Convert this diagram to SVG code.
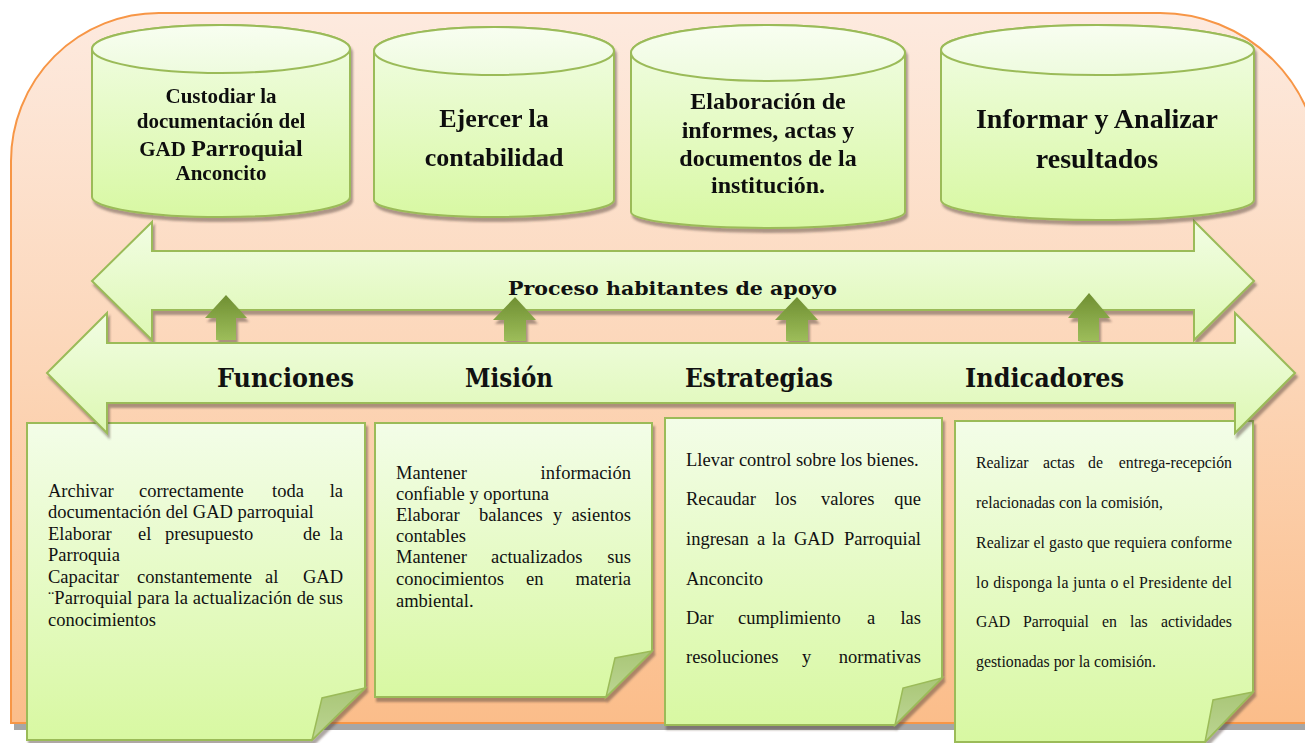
<svg xmlns="http://www.w3.org/2000/svg" width="1305" height="743" viewBox="0 0 1305 743">
<style>
.cy{fill:url(#gCyl);stroke:#9bbb59;stroke-width:2}
.cyt{fill:url(#gTop);stroke:#9bbb59;stroke-width:2}
.ct{font-family:"Liberation Serif","Times New Roman",serif;font-weight:bold;fill:#111;text-anchor:middle}
.ar{fill:url(#gArrow);stroke:#9bbb59;stroke-width:2}
.al{font-family:"DejaVu Serif",serif;font-weight:bold;fill:#111}
.nt{fill:url(#gNote);stroke:#9bbb59;stroke-width:2}
.fd{fill:url(#gFold);stroke:#9bbb59;stroke-width:1.5}
.tx{font-family:"Liberation Serif","Times New Roman",serif;font-size:18.5px;fill:#111}
.tx4{font-family:"Liberation Serif","Times New Roman",serif;font-size:15.8px;fill:#111}
.e{text-anchor:end}
.up{fill:url(#gSmall);stroke:none}
</style>
<defs>
<linearGradient id="gBg" x1="0" y1="0" x2="0" y2="1">
<stop offset="0" stop-color="#fdeadf"/><stop offset="0.5" stop-color="#fcd6b8"/><stop offset="1" stop-color="#fbbd8a"/>
</linearGradient>
<linearGradient id="gCyl" x1="0" y1="0" x2="0" y2="1">
<stop offset="0" stop-color="#f2fde6"/><stop offset="1" stop-color="#d8f8a3"/>
</linearGradient>
<linearGradient id="gTop" x1="0" y1="0" x2="0" y2="1">
<stop offset="0" stop-color="#f8fef1"/><stop offset="1" stop-color="#eefbde"/>
</linearGradient>
<linearGradient id="gArrow" x1="0" y1="0" x2="0" y2="1">
<stop offset="0" stop-color="#f2fde4"/><stop offset="1" stop-color="#ddf8b3"/>
</linearGradient>
<linearGradient id="gNote" x1="0" y1="0" x2="0" y2="1">
<stop offset="0" stop-color="#f3fde8"/><stop offset="1" stop-color="#d8f8a2"/>
</linearGradient>
<linearGradient id="gFold" x1="0" y1="0" x2="0" y2="1">
<stop offset="0" stop-color="#a9c677"/><stop offset="1" stop-color="#bcd592"/>
</linearGradient>
<linearGradient id="gSmall" x1="0" y1="0" x2="0" y2="1">
<stop offset="0" stop-color="#6f8f32"/><stop offset="1" stop-color="#9dbd5a"/>
</linearGradient>
<filter id="sh" x="-5%" y="-5%" width="115%" height="120%">
<feDropShadow dx="2" dy="4" stdDeviation="1" flood-color="#4a3a30" flood-opacity="0.45"/>
</filter>
</defs>

<g id="background">
<path d="M14,730 L14,168 A148 148 0 0 1 162,20 L1163,20 A160 160 0 0 1 1323,180 L1323,730 Z" fill="#a6a6a6"/>
<path d="M11,723 L11,161 A148 148 0 0 1 159,13 L1160,13 A160 160 0 0 1 1320,173 L1320,723 Z" fill="url(#gBg)" stroke="#f79646" stroke-width="2"/>
</g>

<g id="note-funciones" filter="url(#sh)">
<path class="nt" d="M27,423 H365 V688 L312,740 H27 Z"/>
<path class="fd" d="M365,688 L322,698 L312,740 Z"/>
</g>
<g id="note-mision" filter="url(#sh)">
<path class="nt" d="M375,423 H652 V651 L606,697 H375 Z"/>
<path class="fd" d="M652,651 L615,658 L606,697 Z"/>
</g>
<g id="note-estrategias" filter="url(#sh)">
<path class="nt" d="M665,418 H942 V678 L895,725 H665 Z"/>
<path class="fd" d="M942,678 L903,688 L895,725 Z"/>
</g>
<g id="note-indicadores" filter="url(#sh)">
<path class="nt" d="M955,421 H1253 V692 L1205,742 H955 Z"/>
<path class="fd" d="M1253,692 L1213,700 L1205,742 Z"/>
</g>

<g id="note-texts">
<text class="tx" y="497"><tspan x="48">Archivar</tspan><tspan x="139">correctamente</tspan><tspan x="272">toda</tspan></text>
<text class="tx e" x="343" y="497">la</text>
<text class="tx" x="48" y="518">documentación del GAD parroquial</text>
<text class="tx" y="540"><tspan x="48">Elaborar</tspan><tspan x="138">el</tspan><tspan x="165">presupuesto</tspan><tspan x="303">de</tspan></text>
<text class="tx e" x="343" y="540">la</text>
<text class="tx" x="48" y="561">Parroquia</text>
<text class="tx" y="583"><tspan x="48">Capacitar</tspan><tspan x="137">constantemente</tspan><tspan x="265">al</tspan></text>
<text class="tx e" x="343" y="583">GAD</text>
<text class="tx" x="48" y="604" textLength="295" lengthAdjust="spacing">¨Parroquial para la actualización de sus</text>
<text class="tx" x="48" y="626">conocimientos</text>

<text class="tx" x="396" y="479">Mantener</text>
<text class="tx e" x="631" y="479">información</text>
<text class="tx" x="396" y="500">confiable y oportuna</text>
<text class="tx" y="521"><tspan x="396">Elaborar</tspan><tspan x="479">balances</tspan><tspan x="553">y</tspan></text>
<text class="tx e" x="631" y="521">asientos</text>
<text class="tx" x="396" y="542">contables</text>
<text class="tx" y="563"><tspan x="396">Mantener</tspan><tspan x="491">actualizados</tspan></text>
<text class="tx e" x="631" y="563">sus</text>
<text class="tx" y="585"><tspan x="396">conocimientos</tspan><tspan x="526">en</tspan></text>
<text class="tx e" x="631" y="585">materia</text>
<text class="tx" x="396" y="607">ambiental.</text>

<text class="tx" x="686" y="466">Llevar control sobre los bienes.</text>
<text class="tx" y="505"><tspan x="686">Recaudar</tspan><tspan x="775">los</tspan><tspan x="821">valores</tspan></text>
<text class="tx e" x="921" y="505">que</text>
<text class="tx" y="545"><tspan x="686">ingresan</tspan><tspan x="757">a</tspan><tspan x="772">la</tspan><tspan x="794">GAD</tspan></text>
<text class="tx e" x="921" y="545">Parroquial</text>
<text class="tx" x="686" y="585">Anconcito</text>
<text class="tx" y="624"><tspan x="686">Dar</tspan><tspan x="738">cumplimiento</tspan><tspan x="867">a</tspan></text>
<text class="tx e" x="921" y="624">las</text>
<text class="tx" y="663"><tspan x="686">resoluciones</tspan><tspan x="802">y</tspan></text>
<text class="tx e" x="921" y="663">normativas</text>

<text class="tx4" y="468"><tspan x="976">Realizar</tspan><tspan x="1043">actas</tspan><tspan x="1088">de</tspan></text>
<text class="tx4 e" x="1232" y="468">entrega-recepción</text>
<text class="tx4" x="976" y="508">relacionadas con la comisión,</text>
<text class="tx4" x="976" y="548" textLength="256" lengthAdjust="spacing">Realizar el gasto que requiera conforme</text>
<text class="tx4" x="976" y="588" textLength="256" lengthAdjust="spacing">lo disponga la junta o el Presidente del</text>
<text class="tx4" y="627"><tspan x="976">GAD</tspan><tspan x="1023">Parroquial</tspan><tspan x="1102">en</tspan><tspan x="1130">las</tspan></text>
<text class="tx4 e" x="1232" y="627">actividades</text>
<text class="tx4" x="976" y="667">gestionadas por la comisión.</text>
</g>

<g id="arrow-proceso">
<path class="ar" filter="url(#sh)" d="M92,281 L152,222 L152,251 L1194,251 L1194,221 L1254,281 L1194,340 L1194,310 L152,310 L152,340 Z"/>
</g>

<g id="connectors" filter="url(#sh)">
<path class="up" d="M226,295 L247,318 L236,318 L236,340 L216,340 L216,318 L205,318 Z"/>
<path class="up" d="M515,297 L536,320 L526,320 L526,341 L504,341 L504,320 L493,320 Z"/>
<path class="up" d="M797,297 L818,320 L808,320 L808,341 L786,341 L786,320 L775,320 Z"/>
<path class="up" d="M1089,293 L1110,318 L1099,318 L1099,341 L1078,341 L1078,318 L1068,318 Z"/>
</g>

<g id="label-proceso">
<text class="al" x="508" y="295" font-size="18" textLength="329" lengthAdjust="spacingAndGlyphs">Proceso habitantes de apoyo</text>
</g>

<g id="arrow-main">
<path class="ar" filter="url(#sh)" d="M47,373 L107,313 L107,343 L1235,343 L1235,313 L1295,373 L1235,433 L1235,403 L107,403 L107,433 Z"/>
<text class="al" x="217" y="387" font-size="26" textLength="137" lengthAdjust="spacingAndGlyphs">Funciones</text>
<text class="al" x="465" y="387" font-size="26" textLength="88" lengthAdjust="spacingAndGlyphs">Misión</text>
<text class="al" x="685" y="387" font-size="26" textLength="148" lengthAdjust="spacingAndGlyphs">Estrategias</text>
<text class="al" x="965" y="387" font-size="26" textLength="159" lengthAdjust="spacingAndGlyphs">Indicadores</text>
</g>

<g id="cyl-custodiar" filter="url(#sh)">
<path class="cy" d="M92,49 L92,197 A129 20 0 0 0 350,197 L350,49 A129 24 0 0 0 92,49 Z"/>
<ellipse class="cyt" cx="221" cy="49" rx="129" ry="24"/>
<text class="ct" x="221" y="103" font-size="21">Custodiar la</text>
<text class="ct" x="221" y="128" font-size="21">documentación del</text>
<text class="ct" x="221" y="156" font-size="21">GAD <tspan font-size="24">Parroquial</tspan></text>
<text class="ct" x="221" y="180" font-size="21">Anconcito</text>
</g>
<g id="cyl-contabilidad" filter="url(#sh)">
<path class="cy" d="M374,51 L374,200 A120 17 0 0 0 614,200 L614,51 A120 24 0 0 0 374,51 Z"/>
<ellipse class="cyt" cx="494" cy="51" rx="120" ry="24"/>
<text class="ct" x="494" y="127" font-size="26">Ejercer la</text>
<text class="ct" x="494" y="166" font-size="26">contabilidad</text>
</g>
<g id="cyl-informes" filter="url(#sh)">
<path class="cy" d="M631,53 L631,212 A137 16 0 0 0 905,212 L905,53 A137 28 0 0 0 631,53 Z"/>
<ellipse class="cyt" cx="768" cy="53" rx="137" ry="28"/>
<text class="ct" x="768" y="109" font-size="24">Elaboración de</text>
<text class="ct" x="768" y="138" font-size="24">informes, actas y</text>
<text class="ct" x="768" y="166" font-size="24">documentos de la</text>
<text class="ct" x="768" y="193" font-size="24">institución.</text>
</g>
<g id="cyl-analizar" filter="url(#sh)">
<path class="cy" d="M941,50 L941,200 A156.5 20 0 0 0 1254,200 L1254,50 A156.5 25 0 0 0 941,50 Z"/>
<ellipse class="cyt" cx="1097.5" cy="50" rx="156.5" ry="25"/>
<text class="ct" x="1097" y="128" font-size="28">Informar y Analizar</text>
<text class="ct" x="1097" y="168" font-size="28">resultados</text>
</g>
</svg>
